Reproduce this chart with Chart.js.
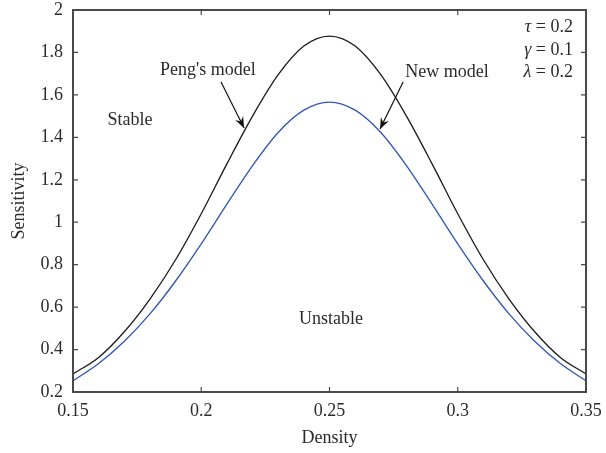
<!DOCTYPE html>
<html>
<head>
<meta charset="utf-8">
<script src="https://cdn.jsdelivr.net/npm/chart.js@4"></script>
<style>
html,body{margin:0;padding:0;background:#fff;}
#wrap{width:606px;height:453px;}
</style>
</head>
<body>
<div id="wrap"><canvas id="c" width="606" height="453"></canvas></div>
<script>
const density = [0.15,0.16,0.17,0.18,0.19,0.20,0.21,0.22,0.23,0.24,0.25,0.26,0.27,0.28,0.29,0.30,0.31,0.32,0.33,0.34,0.35];
const pengModel = [0.285,0.363,0.484,0.638,0.823,1.040,1.275,1.500,1.695,1.830,1.877,1.830,1.695,1.500,1.275,1.040,0.823,0.638,0.484,0.363,0.285];
const newModel  = [0.253,0.334,0.439,0.568,0.723,0.898,1.085,1.267,1.423,1.528,1.566,1.528,1.423,1.267,1.085,0.898,0.723,0.568,0.439,0.334,0.253];
const xTicks = [0.15,0.2,0.25,0.3,0.35];
const yTicks = [0.2,0.4,0.6,0.8,1,1.2,1.4,1.6,1.8,2];

const FONT = '"Liberation Serif", "Times New Roman", serif';
const TXT = '#2b2b2b';
const AX = '#4a4a4a';

const overlay = {
  id: 'overlay',
  afterDraw(chart) {
    const {ctx, chartArea: a, scales: {x, y}} = chart;
    ctx.save();
    ctx.strokeStyle = AX; ctx.lineWidth = 2;
    ctx.strokeRect(a.left, a.top, a.right - a.left, a.bottom - a.top);
    ctx.lineWidth = 1.2;
    const L = 5;
    xTicks.forEach(v => {
      const px = x.getPixelForValue(v);
      ctx.beginPath(); ctx.moveTo(px, a.bottom); ctx.lineTo(px, a.bottom - L);
      ctx.moveTo(px, a.top); ctx.lineTo(px, a.top + L); ctx.stroke();
    });
    yTicks.forEach(v => {
      const py = y.getPixelForValue(v);
      ctx.beginPath(); ctx.moveTo(a.left, py); ctx.lineTo(a.left + L, py);
      ctx.moveTo(a.right, py); ctx.lineTo(a.right - L, py); ctx.stroke();
    });
    ctx.fillStyle = TXT;
    ctx.font = '18px ' + FONT;
    ctx.textBaseline = 'middle';
    ctx.textAlign = 'center';
    const t = (s, vx, vy) => ctx.fillText(s, x.getPixelForValue(vx), y.getPixelForValue(vy));
    t('Stable', 0.1722, 1.482);
    t('Unstable', 0.2506, 0.544);
    t("Peng's model", 0.2026, 1.717);
    t('New model', 0.2958, 1.708);
    const params = [['\u03c4', ' = 0.2', 1.92], ['\u03b3', ' = 0.1', 1.811], ['\u03bb', ' = 0.2', 1.708]];
    params.forEach(([g, rest, vy]) => {
      const right = x.getPixelForValue(0.3449);
      ctx.font = '18px ' + FONT;
      const wRest = ctx.measureText(rest).width;
      ctx.textAlign = 'right';
      ctx.fillText(rest, right, y.getPixelForValue(vy));
      ctx.font = 'italic 18px ' + FONT;
      ctx.fillText(g, right - wRest, y.getPixelForValue(vy));
    });
    const arrow = (x1, y1, x2, y2) => {
      const p1 = [x.getPixelForValue(x1), y.getPixelForValue(y1)];
      const p2 = [x.getPixelForValue(x2), y.getPixelForValue(y2)];
      ctx.strokeStyle = '#111'; ctx.lineWidth = 1.2;
      ctx.beginPath(); ctx.moveTo(p1[0], p1[1]); ctx.lineTo(p2[0], p2[1]); ctx.stroke();
      const ang = Math.atan2(p2[1] - p1[1], p2[0] - p1[0]);
      const hl = 12, hw = 0.38;
      ctx.fillStyle = '#111';
      ctx.beginPath();
      ctx.moveTo(p2[0], p2[1]);
      ctx.lineTo(p2[0] - hl * Math.cos(ang - hw), p2[1] - hl * Math.sin(ang - hw));
      ctx.lineTo(p2[0] - hl * 0.6 * Math.cos(ang), p2[1] - hl * 0.6 * Math.sin(ang));
      ctx.lineTo(p2[0] - hl * Math.cos(ang + hw), p2[1] - hl * Math.sin(ang + hw));
      ctx.closePath(); ctx.fill();
    };
    arrow(0.2077, 1.661, 0.2167, 1.444);
    arrow(0.2787, 1.661, 0.2697, 1.439);
    ctx.restore();
  }
};

new Chart(document.getElementById('c'), {
  type: 'line',
  data: {
    datasets: [
      { label: "Peng's model", data: density.map((d, i) => ({x: d, y: pengModel[i]})),
        borderColor: '#1a1a1a', borderWidth: 1.3, pointRadius: 0, cubicInterpolationMode: 'monotone', fill: false },
      { label: 'New model', data: density.map((d, i) => ({x: d, y: newModel[i]})),
        borderColor: '#2f55b5', borderWidth: 1.3, pointRadius: 0, cubicInterpolationMode: 'monotone', fill: false }
    ]
  },
  options: {
    responsive: false,
    animation: false,
    events: [],
    layout: { padding: { left: 0, right: 20, top: 10, bottom: 0 } },
    plugins: { legend: { display: false }, tooltip: { enabled: false } },
    scales: {
      x: {
        type: 'linear', min: 0.15, max: 0.35,
        afterBuildTicks: s => { s.ticks = xTicks.map(v => ({value: v})); },
        afterFit: s => { s.height = 61; s.paddingLeft = 0; s.paddingRight = 0; },
        grid: { display: false, drawTicks: false },
        border: { display: false },
        ticks: { color: TXT, font: { family: FONT, size: 18 }, padding: 8, callback: v => String(v) },
        title: { display: true, text: 'Density', color: TXT, font: { family: FONT, size: 18 }, padding: { top: 4 } }
      },
      y: {
        type: 'linear', min: 0.2, max: 2,
        afterBuildTicks: s => { s.ticks = yTicks.map(v => ({value: v})); },
        afterFit: s => { s.width = 73; s.paddingTop = 0; s.paddingBottom = 0; },
        grid: { display: false, drawTicks: false },
        border: { display: false },
        ticks: { color: TXT, font: { family: FONT, size: 18 }, padding: 10, callback: v => String(v) },
        title: { display: true, text: 'Sensitivity', color: TXT, font: { family: FONT, size: 18 }, padding: { top: 8, bottom: 0 } }
      }
    }
  },
  plugins: [overlay]
});
</script>
</body>
</html>
